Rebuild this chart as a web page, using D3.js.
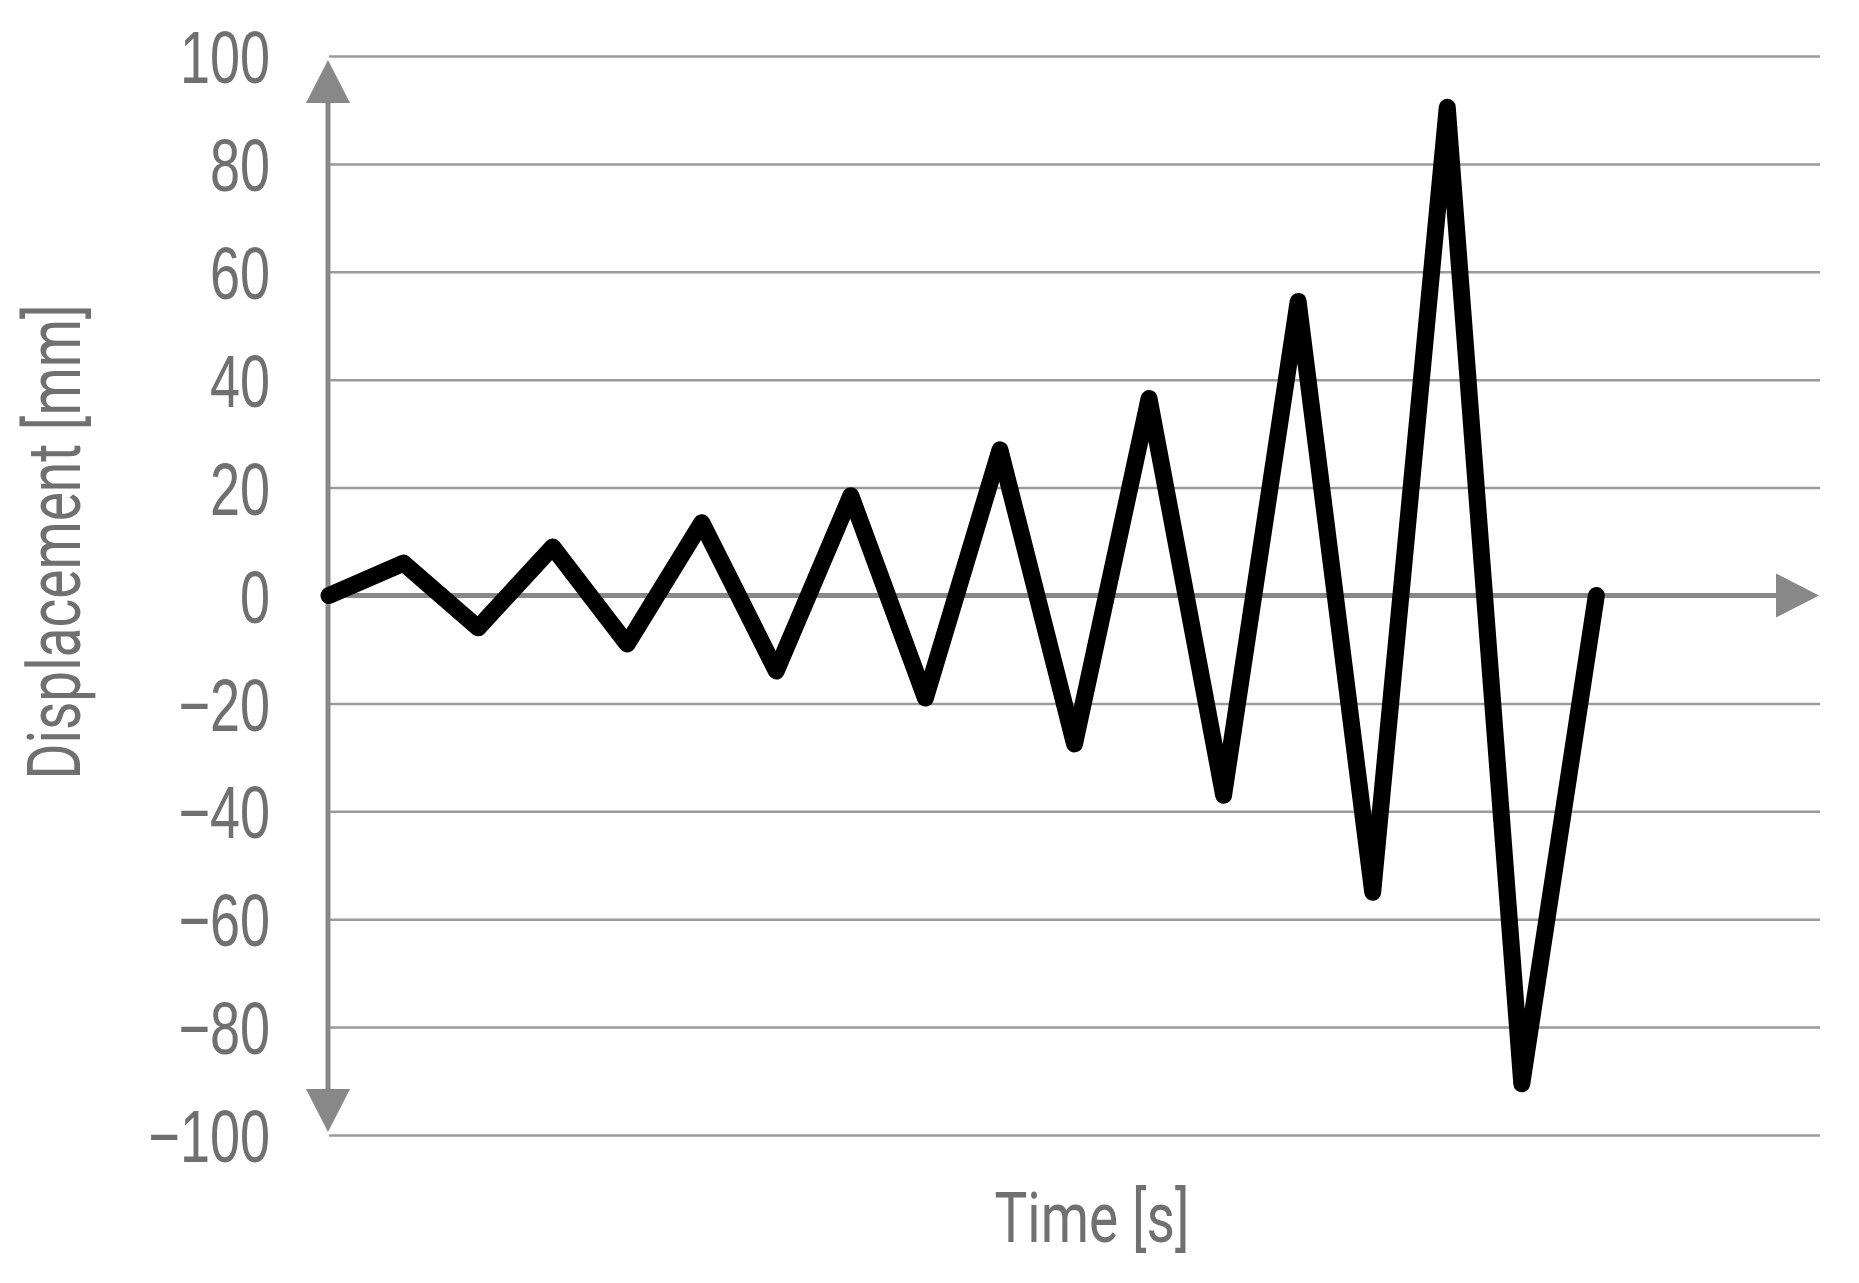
<!DOCTYPE html>
<html>
<head>
<meta charset="utf-8">
<script src="https://cdn.jsdelivr.net/npm/d3@7"></script>
<style>
  html, body { margin: 0; padding: 0; background: #ffffff; }
  svg { display: block; }
</style>
</head>
<body>
<svg id="chart" width="1859" height="1283"></svg>
<script>
// ---- data ----
const timeSteps = [0, 1, 2, 3, 4, 5, 6, 7, 8, 9, 10, 11, 12, 13, 14, 15, 16, 17];
const displacement = [0, 6, -6, 9, -9, 13.5, -14, 18.5, -19, 27, -27.5, 36.5, -37, 54.5, -55, 90.5, -90.5, 0];
const yTicks = [-100, -80, -60, -40, -20, 0, 20, 40, 60, 80, 100];
const yTickLabels = ["\u2212100", "\u221280", "\u221260", "\u221240", "\u221220", "0", "20", "40", "60", "80", "100"];
const xLabel = "Time [s]";
const yLabel = "Displacement [mm]";

// ---- layout ----
const svg = d3.select("#chart");
const plotLeft = 329, plotRight = 1820, plotTop = 56, plotBottom = 1135;
const x = d3.scaleLinear().domain([0, 20]).range([plotLeft, plotRight]);
const y = d3.scaleLinear().domain([-100, 100]).range([plotBottom, plotTop]);

const gridColor = "#9a9a9a";
const axisColor = "#888888";
const textColor = "#707070";
const fontFamily = "Roboto, 'Liberation Sans', sans-serif";
const tickFont = "'Liberation Sans', Arial, sans-serif";

// gridlines
const grid = svg.append("g")
  .attr("transform", `translate(${plotLeft},0)`)
  .call(d3.axisLeft(y).tickValues(yTicks.filter(d => d !== 0)).tickSize(-(plotRight - plotLeft)).tickFormat(""));
grid.select(".domain").remove();
grid.selectAll(".tick line").attr("stroke", gridColor).attr("stroke-width", 2.5);

// tick labels
const labelAxis = svg.append("g")
  .attr("transform", "translate(270,0)")
  .call(d3.axisLeft(y).tickValues(yTicks).tickSize(0).tickPadding(0)
    .tickFormat(d => yTickLabels[yTicks.indexOf(d)]));
labelAxis.select(".domain").remove();
labelAxis.selectAll(".tick text")
  .attr("font-family", tickFont)
  .attr("font-size", 74)
  .attr("fill", textColor)
  .attr("x", 0)
  .attr("dy", "0.36em")
  .attr("transform", "scale(0.73,1)");

// axes with arrows
const ax = x(0) - 1;
const arrowLen = 43, arrowHalf = 22;
const upTip = y(100) + 4, downTip = y(-100) - 3;
svg.append("line")
  .attr("x1", ax).attr("x2", ax)
  .attr("y1", upTip + arrowLen - 2).attr("y2", downTip - arrowLen + 2)
  .attr("stroke", axisColor).attr("stroke-width", 5);
svg.append("path")
  .attr("d", `M${ax},${upTip} L${ax - arrowHalf},${upTip + arrowLen} L${ax + arrowHalf},${upTip + arrowLen} Z`)
  .attr("fill", axisColor);
svg.append("path")
  .attr("d", `M${ax},${downTip} L${ax - arrowHalf},${downTip - arrowLen} L${ax + arrowHalf},${downTip - arrowLen} Z`)
  .attr("fill", axisColor);

const y0 = y(0);
const rightTip = plotRight - 1;
svg.append("line")
  .attr("x1", plotLeft).attr("x2", rightTip - arrowLen + 2)
  .attr("y1", y0).attr("y2", y0)
  .attr("stroke", axisColor).attr("stroke-width", 5);
svg.append("path")
  .attr("d", `M${rightTip},${y0} L${rightTip - arrowLen},${y0 - arrowHalf} L${rightTip - arrowLen},${y0 + arrowHalf} Z`)
  .attr("fill", axisColor);

// data line
const line = d3.line().x((d, i) => x(timeSteps[i])).y(d => y(d));
svg.append("path")
  .datum(displacement)
  .attr("d", line)
  .attr("fill", "none")
  .attr("stroke", "#000000")
  .attr("stroke-width", 17)
  .attr("stroke-linejoin", "round")
  .attr("stroke-linecap", "round");

// axis titles
svg.append("text")
  .attr("x", 1092).attr("y", 1242)
  .attr("text-anchor", "middle")
  .attr("font-family", fontFamily)
  .attr("font-size", 70)
  .attr("fill", textColor)
  .attr("textLength", 195)
  .attr("lengthAdjust", "spacingAndGlyphs")
  .text(xLabel);

svg.append("text")
  .attr("transform", "translate(80,542) rotate(-90)")
  .attr("text-anchor", "middle")
  .attr("font-family", fontFamily)
  .attr("font-size", 74)
  .attr("fill", textColor)
  .attr("textLength", 475)
  .attr("lengthAdjust", "spacingAndGlyphs")
  .text(yLabel);
</script>
</body>
</html>
